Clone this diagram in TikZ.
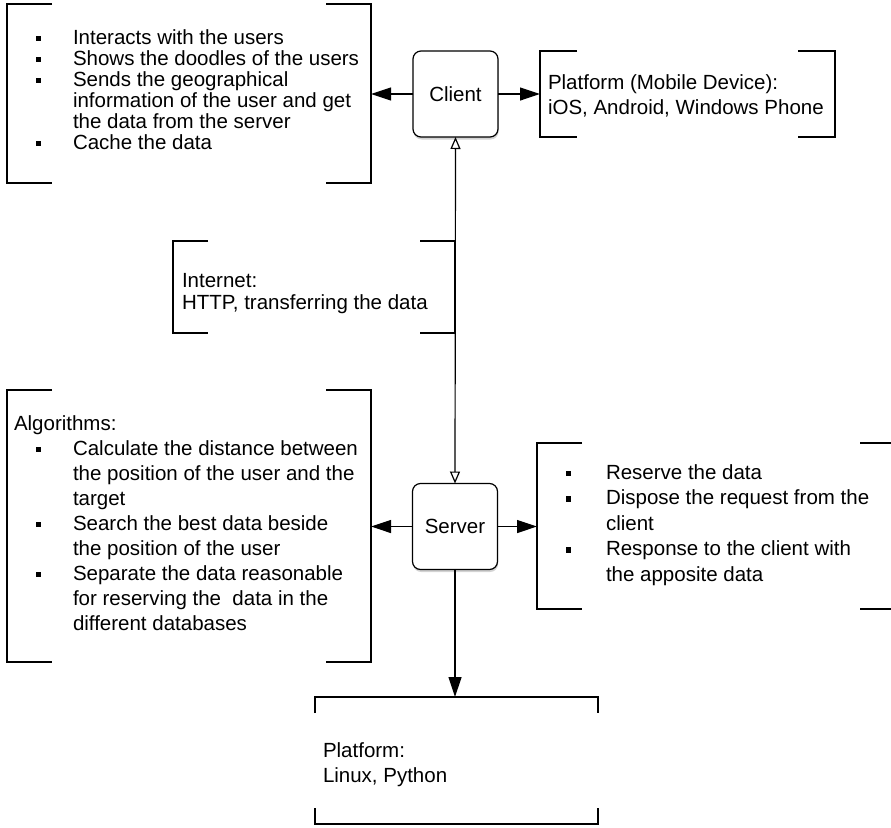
\documentclass[tikz,border=0pt]{standalone}
\usepackage{fontspec}
\setmainfont{Liberation Sans}
\usetikzlibrary{arrows.meta,shadows}

% text blocks: lines stacked at a fixed pitch, baseline of the block = first line
\newlength\bulw
\newcommand{\pl}[1]{\hbox{#1}}
\newcommand{\bl}[1]{\hbox{\makebox[\bulw][l]{\hspace{21.5pt}\rule[2.8pt]{5.5pt}{5.5pt}}#1}}
\newcommand{\cl}[1]{\hbox{\hspace{\bulw}#1}}
\newcommand{\lineblock}[3]{\vtop{\setlength\bulw{#2}\setlength\baselineskip{#1}%
  \lineskiplimit=-100pt\lineskip=0pt\relax #3}}

\tikzset{
  every node/.style={font=\fontsize{20.5}{24}\selectfont, inner sep=0pt, outer sep=0pt},
  unit/.style={draw, line width=1.2pt, rounded corners=8pt, fill=white,
    minimum width=85pt, minimum height=86pt,
    drop shadow={shadow xshift=0.6pt, shadow yshift=-2.5pt, opacity=0.35}},
  txt/.style={anchor=base west},
  wire/.style={line width=1.2pt},
  link/.style={wire, -{Triangle[length=20pt,width=13pt]}},
  duplex/.style={wire, {Triangle[open,length=12pt,width=10pt,fill=white]}-{Triangle[open,length=12pt,width=10pt,fill=white]}},
}

\begin{document}
\begin{tikzpicture}[x=1pt, y=-1pt]
\useasboundingbox (0,0) rectangle (891,827);

% component boxes
\node[unit] (client) at (455.5,94) {Client};
\node[unit] (server) at (455,526.5) {Server};

% bracket frames (invisible nodes, their edges are drawn below)
\node[minimum width=364pt, minimum height=179pt] (uses) at (189,93.5) {};
\node[minimum width=295pt, minimum height=86pt] (mobile) at (687.5,94) {};
\node[minimum width=282pt, minimum height=92pt] (net) at (314,287) {};
\node[minimum width=364pt, minimum height=272pt] (algo) at (189,526) {};
\node[minimum width=368pt, minimum height=166pt] (duty) at (721,526) {};
\node[minimum width=283pt, minimum height=127pt] (host) at (456.5,760.5) {};

% side brackets
\foreach \f/\t in {uses/45, mobile/37, net/35, algo/45, duty/45} {
  \draw[wire] ([xshift=\t pt]\f.north west) -| (\f.south west) -- ++(\t,0);
  \draw[wire] ([xshift=-\t pt]\f.north east) -| (\f.south east) -- ++(-\t,0);
}
% top and bottom bracket of the server platform
\draw[wire] ([yshift=-16pt]host.north west) |- (host.north east) -- ++(0,16);
\draw[wire] ([yshift=16pt]host.south west) |- (host.south east) -- ++(0,-16);

% texts
\node[txt] (usestext) at (14,44) {\lineblock{21pt}{59pt}{%
  \bl{Interacts with the users}
  \bl{Shows the doodles of the users}
  \bl{Sends the geographical}
  \cl{information of the user and get}
  \cl{the data from the server}
  \bl{Cache the data}}};

\node[txt] (mobiletext) at (548,89) {\lineblock{25pt}{0pt}{%
  \pl{Platform (Mobile Device):}
  \pl{iOS, Android, Windows Phone}}};

\node[txt] (nettext) at (182,287) {\lineblock{22pt}{0pt}{%
  \pl{Internet:}
  \pl{HTTP, transferring the data}}};

\node[txt] (algotext) at (14,430) {\lineblock{25pt}{59pt}{%
  \pl{Algorithms:}
  \bl{Calculate the distance between}
  \cl{the position of the user and the}
  \cl{target}
  \bl{Search the best data beside}
  \cl{the position of the user}
  \bl{Separate the data reasonable}
  \cl{for reserving the\ \ data in the}
  \cl{different databases}}};

\node[txt] (dutytext) at (544,479) {\lineblock{25.5pt}{62pt}{%
  \bl{Reserve the data}
  \bl{Dispose the request from the}
  \cl{client}
  \bl{Response to the client with}
  \cl{the apposite data}}};

\node[txt] (hosttext) at (323,757) {\lineblock{25pt}{0pt}{%
  \pl{Platform:}
  \pl{Linux, Python}}};

% connectors
\draw[link] (client.west) -- (client.west -| uses.east);
\draw[link] (client.east) -- (client.east -| mobile.west);
\draw[duplex] (client.south) -- (server.north);
\draw[link] (server.west) -- (server.west -| algo.east);
\draw[link] (server.east) -- (server.east -| duty.west);
\draw[link] (server.south) -- (server.south |- host.north);
\end{tikzpicture}
\end{document}
